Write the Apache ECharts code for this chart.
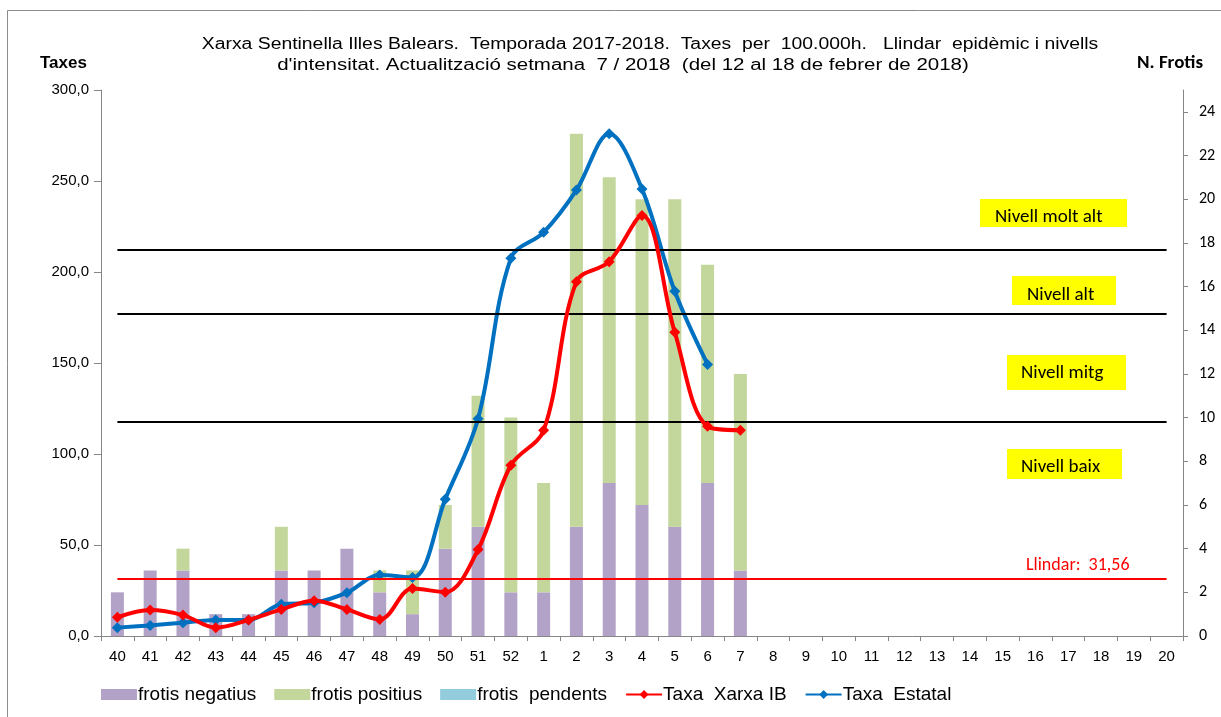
<!DOCTYPE html>
<html>
<head>
<meta charset="utf-8">
<script src="https://cdn.jsdelivr.net/npm/echarts@6/dist/echarts.min.js"></script>
<style>
  html, body { margin: 0; padding: 0; background: #fff; }
  #chart { width: 1221px; height: 717px; }
</style>
</head>
<body>
<div id="chart"></div>
<script>
// setmanes epidemiològiques
const weeks = ['40', '41', '42', '43', '44', '45', '46', '47', '48', '49', '50', '51', '52',
  '1', '2', '3', '4', '5', '6', '7', '8', '9', '10', '11', '12', '13', '14', '15', '16', '17', '18', '19', '20'];

// frotis (eix dret)
const frotisNegatius = [2, 3, 3, 1, 1, 3, 3, 4, 2, 1, 4, 5, 2, 2, 5, 7, 6, 5, 7, 3];
const frotisPositius = [0, 0, 1, 0, 0, 2, 0, 0, 1, 2, 2, 6, 8, 5, 18, 14, 14, 15, 10, 9];
const frotisPendents = [0, 0, 0, 0, 0, 0, 0, 0, 0, 0, 0, 0, 0, 0, 0, 0, 0, 0, 0, 0];

// taxes per 100.000h (eix esquerre)
const taxaXarxaIB = [10.3, 14.3, 11.5, 4.6, 8.8, 14.6, 19.4, 14.6, 9.1, 26.1, 24.1, 47.5, 93.8,
  113.0, 194.7, 205.7, 231.0, 166.9, 115.2, 113.0];
const taxaEstatal = [4.6, 5.8, 7.3, 8.8, 8.8, 17.4, 18.3, 23.8, 33.5, 32.2, 75.2, 119.4, 207.5,
  221.8, 245.0, 276.0, 245.6, 189.4, 149.2];

// llindar i nivells d'intensitat
const llindar = 31.56;
const nivells = [117.6, 177.0, 212.2];
const nivellLabels = ['Nivell baix', 'Nivell mitg', 'Nivell alt', 'Nivell molt alt'];

const titleLine1 = 'Xarxa Sentinella Illes Balears.  Temporada 2017-2018.  Taxes  per  100.000h.   Llindar  epidèmic i nivells';
const titleLine2 = "d'intensitat. Actualització setmana  7 / 2018  (del 12 al 18 de febrer de 2018)";

const fontArial = 'Liberation Sans, Arial, sans-serif';
const fontCal = 'Carlito, Liberation Sans Narrow, Liberation Sans, sans-serif';

const chart = echarts.init(document.getElementById('chart'));

// caixes grogues amb els nivells
const nivellBoxes = [
  { text: nivellLabels[3], x: 980, y: 199, w: 147, h: 28, tx: 995, ty: 217 },
  { text: nivellLabels[2], x: 1012, y: 276, w: 104, h: 29, tx: 1027, ty: 295 },
  { text: nivellLabels[1], x: 1007, y: 355, w: 119, h: 35, tx: 1021, ty: 373 },
  { text: nivellLabels[0], x: 1007, y: 449, w: 115, h: 30, tx: 1021, ty: 467 }
];
const boxGraphics = [];
nivellBoxes.forEach(b => {
  boxGraphics.push({
    type: 'rect', shape: { x: b.x, y: b.y, width: b.w, height: b.h },
    style: { fill: '#ffff00' }, z: 10
  });
  boxGraphics.push({
    type: 'text', x: b.tx, y: b.ty, z: 11,
    style: { text: b.text, fill: '#000', font: '19px ' + fontCal, align: 'left', verticalAlign: 'middle' }
  });
});

const levelLine = v => [{ coord: ['40', v] }, { coord: ['20', v] }];
const blackLine = { lineStyle: { color: '#000', width: 2, type: 'solid' }, label: { show: false } };

const option = {
  animation: false,
  graphic: [
    { type: 'rect', shape: { x: 7.5, y: 10.5, width: 1240, height: 730 },
      style: { fill: 'none', stroke: '#8c8c8c', lineWidth: 1 } },
    { type: 'text', x: 650, y: 45, scaleX: 1.21,
      style: { text: titleLine1, font: '16px ' + fontArial, fill: '#000', align: 'center', verticalAlign: 'middle' } },
    { type: 'text', x: 623, y: 66, scaleX: 1.28,
      style: { text: titleLine2, font: '16px ' + fontArial, fill: '#000', align: 'center', verticalAlign: 'middle' } },
    { type: 'text', x: 40, y: 55, style: { text: 'Taxes', font: 'bold 17px ' + fontArial, fill: '#000' } },
    { type: 'text', x: 1137, y: 54, style: { text: 'N. Frotis', font: 'bold 19px ' + fontCal, fill: '#000' } },
    ...boxGraphics
  ],
  legend: {
    left: 96,
    top: 680,
    itemWidth: 36,
    itemHeight: 11,
    itemGap: 18,
    textStyle: { fontFamily: fontArial, fontSize: 19, color: '#000', padding: [0, 0, 0, -4] },
    data: [
      { name: 'frotis negatius', icon: 'rect' },
      { name: 'frotis positius', icon: 'rect' },
      { name: 'frotis  pendents', icon: 'rect' },
      'Taxa  Xarxa IB',
      'Taxa  Estatal'
    ]
  },
  grid: { left: 101, right: 38, top: 90, bottom: 81 },
  xAxis: {
    type: 'category',
    data: weeks,
    boundaryGap: true,
    axisLine: { lineStyle: { color: '#868686', width: 1 } },
    axisTick: { show: true, length: 5, lineStyle: { color: '#868686' } },
    axisLabel: { interval: 0, color: '#000', fontFamily: fontArial, fontSize: 15, margin: 13 }
  },
  yAxis: [
    {
      type: 'value', min: 0, max: 300, interval: 50,
      axisLine: { show: true, lineStyle: { color: '#868686' } },
      axisTick: { show: true, length: 7, lineStyle: { color: '#868686' } },
      splitLine: { show: false },
      axisLabel: {
        color: '#000', fontFamily: fontArial, fontSize: 15, margin: 12,
        formatter: v => v.toFixed(1).replace('.', ',')
      }
    },
    {
      type: 'value', min: 0, max: 25, interval: 2,
      position: 'right',
      axisLine: { show: true, lineStyle: { color: '#868686' } },
      axisTick: { show: true, length: 5, lineStyle: { color: '#868686' } },
      splitLine: { show: false },
      axisLabel: {
        color: '#000', fontFamily: fontCal, fontSize: 16, margin: 16, showMaxLabel: false,
        formatter: v => (v % 2 === 0 ? String(v) : '')
      }
    }
  ],
  series: [
    {
      name: 'frotis negatius', type: 'bar', stack: 'frotis', yAxisIndex: 1,
      data: frotisNegatius, barWidth: 13, itemStyle: { color: '#b3a2c7' }
    },
    {
      name: 'frotis positius', type: 'bar', stack: 'frotis', yAxisIndex: 1,
      data: frotisPositius, barWidth: 13, itemStyle: { color: '#c3d69b' }
    },
    {
      name: 'frotis  pendents', type: 'bar', stack: 'frotis', yAxisIndex: 1,
      data: frotisPendents, barWidth: 13, itemStyle: { color: '#93cddd' }
    },
    {
      name: 'Taxa  Xarxa IB', type: 'line', yAxisIndex: 0,
      data: taxaXarxaIB, smooth: 0.35,
      symbol: 'diamond', symbolSize: 11,
      lineStyle: { color: '#ff0000', width: 4 },
      itemStyle: { color: '#ff0000' },
      z: 5,
      markLine: {
        silent: true, symbol: 'none',
        data: [
          levelLine(nivells[0]).map(p => ({ ...p, ...blackLine })),
          levelLine(nivells[1]).map(p => ({ ...p, ...blackLine })),
          levelLine(nivells[2]).map(p => ({ ...p, ...blackLine })),
          levelLine(llindar).map(p => ({
            ...p,
            lineStyle: { color: '#ff0000', width: 2, type: 'solid' },
            label: {
              show: true, position: 'insideEndTop', distance: [37, 4],
              formatter: 'Llindar:  ' + String(llindar).replace('.', ','),
              color: '#ff0000', fontFamily: fontCal, fontSize: 18
            }
          }))
        ]
      }
    },
    {
      name: 'Taxa  Estatal', type: 'line', yAxisIndex: 0,
      data: taxaEstatal, smooth: 0.35,
      symbol: 'diamond', symbolSize: 11,
      lineStyle: { color: '#0070c0', width: 4 },
      itemStyle: { color: '#0070c0' },
      z: 4
    }
  ]
};

chart.setOption(option);
window.addEventListener('resize', () => chart.resize());
</script>
</body>
</html>
